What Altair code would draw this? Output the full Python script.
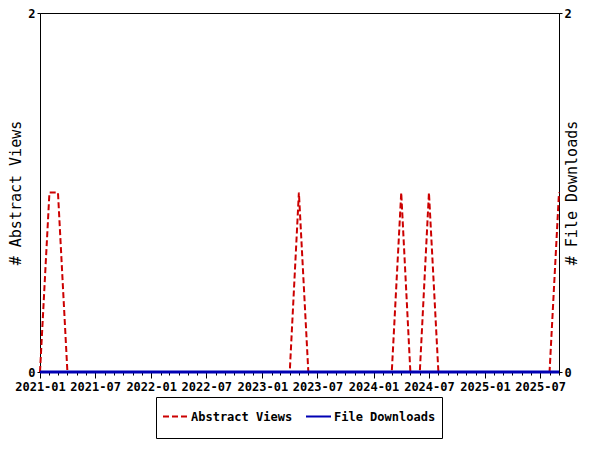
import altair as alt
import pandas as pd

months = [f"{y}-{m:02d}-01" for y in range(2021, 2026) for m in range(1, 13)][:57]
abstract_views = [0, 1, 1, 0, 0, 0, 0, 0, 0, 0, 0, 0,
                  0, 0, 0, 0, 0, 0, 0, 0, 0, 0, 0, 0,
                  0, 0, 0, 0, 1, 0, 0, 0, 0, 0, 0, 0,
                  0, 0, 0, 1, 0, 0, 1, 0, 0, 0, 0, 0,
                  0, 0, 0, 0, 0, 0, 0, 0, 1]
file_downloads = [0] * 57
series_names = ["Abstract Views", "File Downloads"]
series_colors = ["#cc0000", "#0000b4"]

df_a = pd.DataFrame({"date": months, "value": abstract_views, "series": series_names[0]})
df_f = pd.DataFrame({"date": months, "value": file_downloads, "series": series_names[1]})

MONO = "DejaVu Sans Mono"

x = alt.X("date:T", title=None,
          scale=alt.Scale(type="utc", domain=["2021-01-01", "2025-09-01"], nice=False),
          axis=alt.Axis(tickCount={"interval": "month", "step": 1},
                        labelExpr="utcmonth(datum.value) % 6 == 0 ? utcFormat(datum.value, '%Y-%m') : ''",
                        labelOverlap=False, labelFlush=False, labelBound=False,
                        tickSize={"condition": {"test": "utcmonth(datum.value) % 6 == 0", "value": 6}, "value": 3},
                        labelPadding=3, grid=False, labelFont=MONO, labelFontWeight="bold",
                        labelFontSize=12, labelColor="black", tickColor="black",
                        domainColor="black"))

color = alt.Color("series:N", scale=alt.Scale(domain=series_names, range=series_colors),
                  legend=alt.Legend(orient="none", legendX=116, legendY=384, direction="horizontal",
                                    title=None, symbolType="M-1,-0.92M-1,0.92M-1,0H1",
                                    symbolSize=625, symbolStrokeWidth=2,
                                    strokeColor="black", fillColor="white",
                                    padding=6, columnPadding=9, labelOffset=2, labelFont=MONO,
                                    labelFontWeight="bold", labelFontSize=12, labelColor="black",
                                    labelLimit=300))
dash = alt.StrokeDash("series:N", scale=alt.Scale(domain=series_names, range=[[6, 3], [1, 0]]),
                      legend=None)

yaxis_common = dict(values=[0, 2], grid=False, tickSize=3, labelPadding=2,
                    titleFont=MONO, titleFontSize=15, titleFontWeight="normal",
                    labelFont=MONO, labelFontWeight="bold", labelFontSize=12,
                    labelColor="black", tickColor="black", domainColor="black",
                    titleColor="black")

left = alt.Chart(df_a).mark_line(strokeWidth=2).encode(
    x=x,
    y=alt.Y("value:Q", title="# Abstract Views",
            scale=alt.Scale(domain=[0, 2], nice=False),
            axis=alt.Axis(orient="left", titlePadding=4, **yaxis_common)),
    color=color, strokeDash=dash)

right = alt.Chart(df_f).mark_line(strokeWidth=3).encode(
    x=x,
    y=alt.Y("value:Q", title="# File Downloads",
            scale=alt.Scale(domain=[0, 2], nice=False),
            axis=alt.Axis(orient="right", titlePadding=8, titleAngle=270, **yaxis_common)),
    color=color, strokeDash=dash)

chart = alt.layer(left, right).resolve_scale(y="independent").properties(
    width=519, height=359,
    autosize=alt.AutoSizeParams(type="none"),
    padding={"left": 32, "top": 5, "right": 33, "bottom": 68},
    background="white",
).configure_view(stroke="black", strokeWidth=1)

chart.save("out.html", embed_options={"renderer": "svg", "actions": False})
